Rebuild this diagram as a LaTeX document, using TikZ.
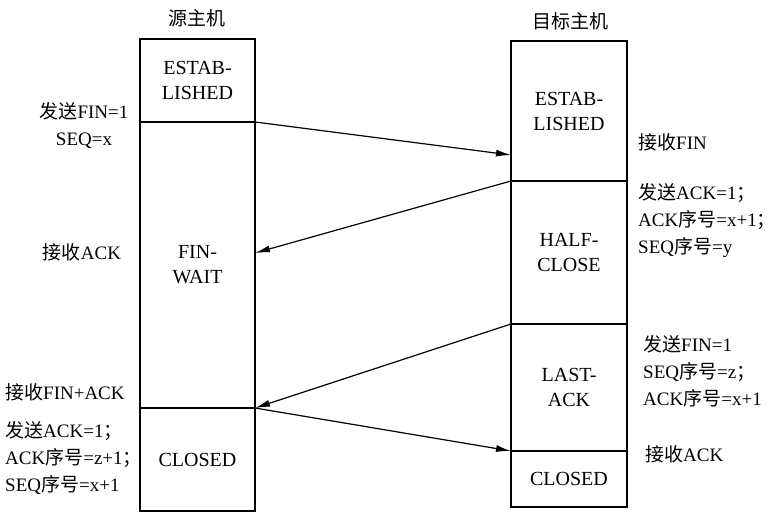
\documentclass[tikz,border=0pt]{standalone}
\usepackage{fontspec}
\setmainfont{Liberation Serif}
\newfontfamily\zhfont{Noto Sans CJK SC}
\newcommand{\zhs}[1]{{\zhfont #1}}
\usetikzlibrary{arrows.meta}
\tikzset{
  box/.style={draw, line width=1.3pt, inner sep=0pt, outer sep=0pt, anchor=north west,
    align=center, font=\fontsize{20}{25}\selectfont},
  lbl/.style={inner sep=0pt, font=\fontsize{19}{27}\selectfont},
  hdr/.style={inner sep=0pt, font=\fontsize{19}{22}\selectfont},
  msg/.style={line width=1.2pt, -{Latex[length=15pt,width=7pt]}}
}
\begin{document}
\begin{tikzpicture}[x=1pt,y=-1pt]
\useasboundingbox (0,0) rectangle (780,527);
% headers
\node[hdr] (hL) at (197,18) {\zhs{源主机}};
\node[hdr] (hR) at (570,21) {\zhs{目标主机}};
% left column
\node[box, minimum width=115, minimum height=83] (L1) at (140,39) {ESTAB-\\LISHED};
\node[box, minimum width=115, minimum height=286] (L2) at (140,122) {FIN-\\WAIT};
\node[box, minimum width=115, minimum height=103] (L3) at (140,408) {CLOSED};
% right column
\node[box, minimum width=116, minimum height=140] (R1) at (511,41) {ESTAB-\\LISHED};
\node[box, minimum width=116, minimum height=143] (R2) at (511,181) {HALF-\\CLOSE};
\node[box, minimum width=116, minimum height=127] (R3) at (511,324) {LAST-\\ACK};
\node[box, minimum width=116, minimum height=56] (R4) at (511,451) {CLOSED};
% arrow end points on borders
\coordinate (t1) at (511,155);
\coordinate (t2) at (255,253);
% arrows
\draw[msg] (L1.south east) -- (t1);
\draw[msg] (R2.north west) -- (t2);
\draw[msg] (R3.north west) -- (L3.north east);
\draw[msg] (L3.north east) -- (R4.north west);
% left labels
\node[lbl, align=center] (a1) at (84,126) {\zhs{发送}FIN=1\\SEQ=x};
\node[lbl] (a2) at (82,252) {\zhs{接收}ACK};
\node[lbl, anchor=west] (a3) at (5,392) {\zhs{接收}FIN+ACK};
\node[lbl, anchor=west, align=left] (a4) at (5,458) {\zhs{发送}ACK=1\zhs{；}\\ACK\zhs{序号}=z+1\zhs{；}\\SEQ\zhs{序号}=x+1};
% right labels
\node[lbl, anchor=west] (b1) at (638,142) {\zhs{接收}FIN};
\node[lbl, anchor=west, align=left] (b2) at (638,221) {\zhs{发送}ACK=1\zhs{；}\\ACK\zhs{序号}=x+1\zhs{；}\\SEQ\zhs{序号}=y};
\node[lbl, anchor=west, align=left] (b3) at (643,371) {\zhs{发送}FIN=1\\SEQ\zhs{序号}=z\zhs{；}\\ACK\zhs{序号}=x+1};
\node[lbl, anchor=west] (b4) at (645,454) {\zhs{接收}ACK};
\end{tikzpicture}
\end{document}
